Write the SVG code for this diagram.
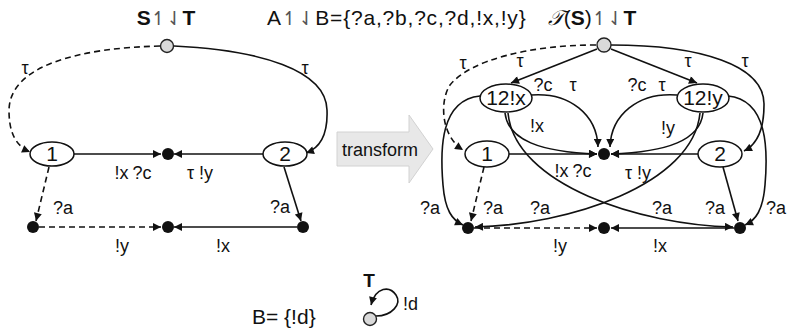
<svg xmlns="http://www.w3.org/2000/svg" width="788" height="331" viewBox="0 0 788 331">
<style>
text{font-family:"Liberation Sans",Arial,sans-serif;fill:#111}
.lbl{font-size:18px;text-anchor:middle}
.nl{font-size:21px;text-anchor:middle}
.e{fill:none;stroke:#111;stroke-width:1.6}
.d{stroke-dasharray:6,4}
.arr{marker-end:url(#ah)}
.st{fill:#fff;stroke:#111;stroke-width:1.5}
.dot{fill:#111}
.init{fill:#d9d9d9;stroke:#222;stroke-width:1.4}
.hp{font-family:"DejaVu Sans",sans-serif;font-weight:normal;font-size:19px;fill:#555}
</style>
<defs>
<marker id="ah" viewBox="0 0 10 10" refX="10" refY="5" markerWidth="9" markerHeight="8" markerUnits="userSpaceOnUse" orient="auto"><path d="M0,0 L10,5 L0,10 z" fill="#111"/></marker>
</defs>

<!-- titles -->
<text x="166" y="25" font-size="21" text-anchor="middle"><tspan font-weight="bold">S</tspan><tspan class="hp">↿⇃</tspan><tspan font-weight="bold">T</tspan></text>
<text x="267" y="25" font-size="21" letter-spacing="0.8">A<tspan class="hp">↿⇃</tspan>B={?a,?b,?c,?d,!x,!y}</text>
<text x="592" y="25" font-size="21" text-anchor="middle"><tspan font-family="'DejaVu Serif',serif" font-style="italic">𝒯</tspan>(<tspan font-weight="bold">S</tspan>)<tspan class="hp">↿⇃</tspan><tspan font-weight="bold">T</tspan></text>

<!-- transform arrow -->
<g id="transform">
<polygon points="337,132 409,132 409,115 433,149 409,183 409,166 337,166" fill="#e8e8e8" stroke="#d2d2d2" stroke-width="1"/>
<text x="380" y="156" font-size="18" text-anchor="middle" fill="#333">transform</text>
</g>

<!-- left graph connectors -->
<g id="left-edges">
<path class="e d arr" d="M160,46 C80,48 10,65 9,110 C9,130 14,145 30,152"/>
<path class="e arr" d="M174,46 C260,50 326,70 327,110 C328,135 320,148 306,153"/>
<path class="e arr" d="M74,154 L161,154"/>
<path class="e arr" d="M264,154 L174,154"/>
<path class="e d arr" d="M49,167 L36,221"/>
<path class="e arr" d="M284,167 L301,221"/>
<path class="e d arr" d="M39,227 L161,227"/>
<path class="e arr" d="M297,227 L174,227"/>
<text class="lbl" x="25" y="74">τ</text>
<text class="lbl" x="305" y="74">τ</text>
<text class="lbl" x="133" y="179">!x<tspan dx="4">?c</tspan></text>
<text class="lbl" x="200" y="179">τ !y</text>
<text class="lbl" x="63" y="214">?a</text>
<text class="lbl" x="280" y="213">?a</text>
<text class="lbl" x="122" y="252">!y</text>
<text class="lbl" x="223" y="252">!x</text>
</g>

<!-- left graph nodes -->
<g id="L-init"><circle class="init" cx="167" cy="46" r="6.5"/></g>
<g id="L-n1"><ellipse class="st" cx="52" cy="154" rx="22" ry="12"/><text class="nl" x="52" y="161">1</text></g>
<g id="L-n2"><ellipse class="st" cx="285" cy="154" rx="22" ry="12"/><text class="nl" x="285" y="161">2</text></g>
<g id="L-c"><circle class="dot" cx="168" cy="154" r="6"/></g>
<g id="L-bl"><circle class="dot" cx="33" cy="227" r="6"/></g>
<g id="L-bm"><circle class="dot" cx="168" cy="227" r="6"/></g>
<g id="L-br"><circle class="dot" cx="303" cy="227" r="6"/></g>

<!-- right graph connectors -->
<g id="right-edges">
<path class="e d arr" d="M596,45 C530,45 470,60 450,85 C440,100 440,135 463,150"/>
<path class="e arr" d="M611,45 C700,45 765,65 764,105 C764,125 760,143 744,151"/>
<path class="e arr" d="M597,49 L511,83"/>
<path class="e arr" d="M611,49 L697,83"/>
<!-- from 12!x -->
<path class="e arr" d="M531,95 C570,92 597,115 598,147"/>
<path class="e arr" d="M505,113 C508,140 540,152 597,154"/>
<path class="e arr" d="M508,113 C515,185 640,225 733,227"/>
<path class="e arr" d="M480,96 C440,100 440,150 443,185 C445,210 452,220 463,225"/>
<!-- from 12!y -->
<path class="e arr" d="M677,95 C638,92 611,115 610,147"/>
<path class="e arr" d="M703,113 C700,140 668,152 611,154"/>
<path class="e arr" d="M700,113 C693,185 568,225 475,227"/>
<path class="e arr" d="M728,96 C768,100 768,150 765,185 C763,210 756,220 745,225"/>
<!-- lower -->
<path class="e arr" d="M509,154 L597,154"/>
<path class="e arr" d="M698,154 L611,154"/>
<path class="e d arr" d="M484,167 L471,221"/>
<path class="e arr" d="M723,167 L738,221"/>
<path class="e d arr" d="M474,228 L597,228"/>
<path class="e arr" d="M734,228 L611,228"/>
<text class="lbl" x="463" y="69">τ</text>
<text class="lbl" x="520" y="67">τ</text>
<text class="lbl" x="688" y="67">τ</text>
<text class="lbl" x="745" y="67">τ</text>
<text class="lbl" x="543" y="91">?c</text>
<text class="lbl" x="573" y="91">τ</text>
<text class="lbl" x="637" y="91">?c</text>
<text class="lbl" x="662" y="91">τ</text>
<text class="lbl" x="537" y="132">!x</text>
<text class="lbl" x="668" y="134">!y</text>
<text class="lbl" x="573" y="177">!x<tspan dx="4">?c</tspan></text>
<text class="lbl" x="638" y="179">τ !y</text>
<text class="lbl" x="430" y="214">?a</text>
<text class="lbl" x="493" y="214">?a</text>
<text class="lbl" x="540" y="214">?a</text>
<text class="lbl" x="662" y="214">?a</text>
<text class="lbl" x="715" y="214">?a</text>
<text class="lbl" x="776" y="214">?a</text>
<text class="lbl" x="560" y="252">!y</text>
<text class="lbl" x="660" y="252">!x</text>
</g>

<!-- right graph nodes -->
<g id="R-init"><circle class="init" cx="604" cy="45" r="7"/></g>
<g id="R-12x"><ellipse class="st" cx="506" cy="98" rx="26" ry="14"/><text class="nl" x="506" y="105">12!x</text></g>
<g id="R-12y"><ellipse class="st" cx="703" cy="98" rx="26" ry="14"/><text class="nl" x="703" y="105">12!y</text></g>
<g id="R-n1"><ellipse class="st" cx="487" cy="154" rx="22" ry="13"/><text class="nl" x="487" y="161">1</text></g>
<g id="R-n2"><ellipse class="st" cx="720" cy="154" rx="22" ry="13"/><text class="nl" x="720" y="161">2</text></g>
<g id="R-c"><circle class="dot" cx="604" cy="154" r="6"/></g>
<g id="R-bl"><circle class="dot" cx="468" cy="228" r="6"/></g>
<g id="R-bm"><circle class="dot" cx="604" cy="228" r="6"/></g>
<g id="R-br"><circle class="dot" cx="740" cy="228" r="6"/></g>

<!-- bottom legend -->
<text x="252" y="324" font-size="21">B= {!d}</text>
<text x="369" y="287" font-size="19" font-weight="bold" text-anchor="middle">T</text>
<g id="T-loop"><path class="e arr" d="M376,316 C392,316 402,304 396,295 C390,286 376,286 371,305"/></g>
<g id="T-init"><circle class="init" cx="370" cy="319" r="6.5"/></g>
<text x="403" y="310" font-size="18">!d</text>
</svg>
